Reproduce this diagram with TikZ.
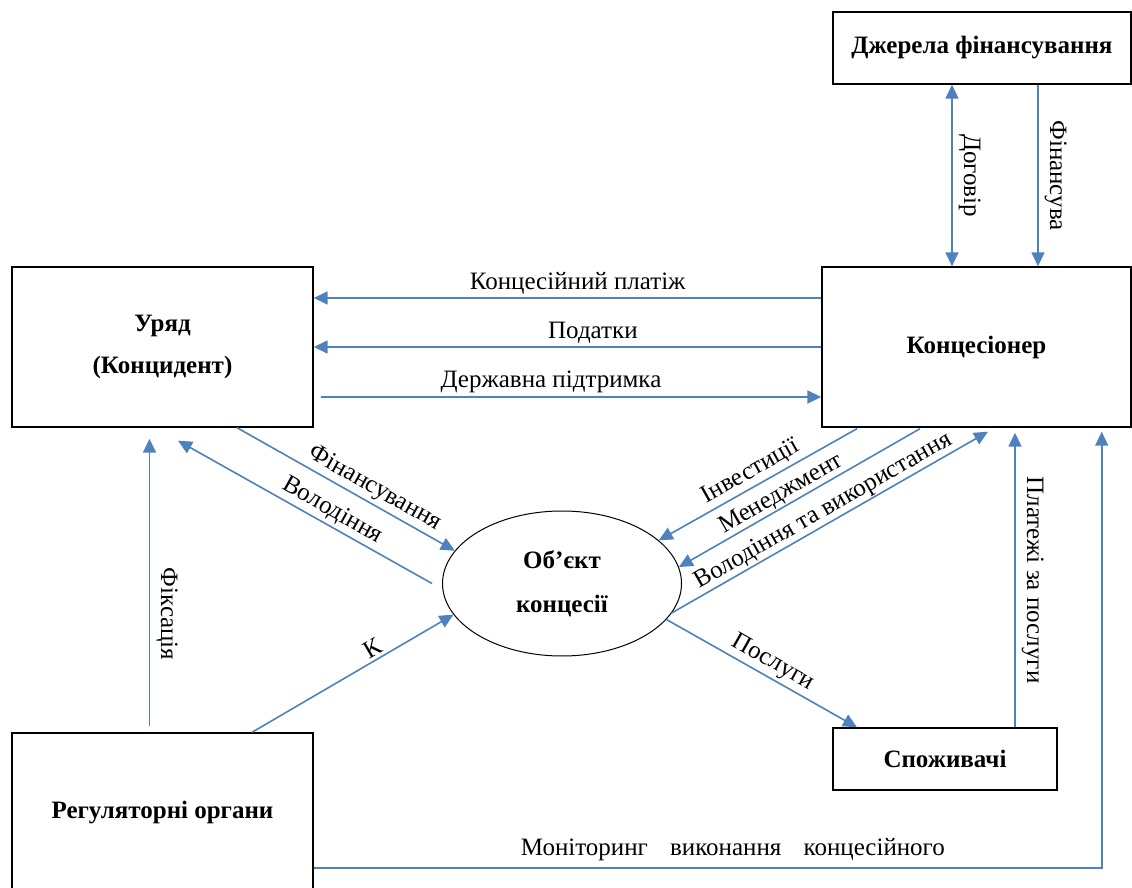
\documentclass[tikz,border=0pt]{standalone}
\usepackage{fontspec}
\setmainfont{Liberation Serif}
\usetikzlibrary{shapes.geometric,arrows.meta}
\definecolor{linkblue}{RGB}{79,129,189}
\begin{document}
\begin{tikzpicture}[x=0.5pt,y=-0.5pt,
	>={Triangle[length=7pt,width=6.5pt]},
	every node/.style={font=\fontsize{12.5}{15}\selectfont},
	box/.style={draw, line width=0.7pt, inner sep=0pt, align=center, font=\fontsize{12.5}{15}\selectfont\bfseries},
	link/.style={draw=linkblue, line width=0.8pt, ->},
	tag/.style={sloped, above, inner sep=1.5pt},
	vtag/.style={rotate=-90, anchor=south, inner sep=3pt}]
	\clip (0,0) rectangle (1132,888);

	\node[box, minimum width=149pt, minimum height=36pt] (src) at (982,48) {Джерела фінансування};
	\node[box, minimum width=150.5pt, minimum height=80pt] (gov) at (162.5,347) {Уряд\\[6pt](Концидент)};
	\node[box, minimum width=154.5pt, minimum height=80pt] (conc) at (976.5,347) {Концесіонер};
	\node[draw, ellipse, line width=0.5pt, inner sep=0pt, align=center, minimum width=119.5pt, minimum height=72.5pt,
		font=\fontsize{12.5}{15}\selectfont\bfseries] (obj) at (562,583.5) {Об’єкт\\[7pt]концесії};
	\node[box, minimum width=112pt, minimum height=31pt] (cons) at (945,759) {Споживачі};
	\node[box, minimum width=150.5pt, minimum height=79.5pt] (reg) at (162.5,812.5) {Регуляторні органи};

	\draw[link, <->] ([xshift=-15pt]src.south) -- ([xshift=-15pt]src.south |- conc.north) node[vtag, midway] {Договір};
	\draw[link] ([xshift=28pt]src.south) -- ([xshift=28pt]src.south |- conc.north) node[vtag, midway] {Фінансува};

	\draw[link] ([yshift=24.5pt]conc.west) -- ([yshift=24.5pt]conc.west -| gov.east) node[tag, pos=0.48] {Концесійний платіж};
	\draw[link] (conc.west) -- (conc.west -| gov.east) node[tag, pos=0.45] {Податки};
	\draw[link] ([xshift=3.5pt,yshift=-25pt]gov.east) -- ([yshift=-25pt]gov.east -| conc.west) node[tag, pos=0.46] {Державна підтримка};

	\draw[link] ([xshift=37.25pt]gov.south) -- (obj.163) node[tag, pos=0.6] {Фінансування};
	\draw[link] ([xshift=-5pt]obj.west) -- ([xshift=7.75pt,yshift=-6.5pt]gov.south) node[tag, pos=0.42] {Володіння};
	\draw[link] ([xshift=-6.5pt,yshift=3pt]reg.north) -- ([xshift=-6.5pt,yshift=-5.5pt]gov.south) node[vtag, pos=0.39] {Фіксація};
	\draw[link] ([xshift=44.75pt]reg.north) -- (obj.196) node[tag, pos=0.63] {К};

	\draw[link] ([xshift=-59.75pt,yshift=-0.5pt]conc.south) -- (obj.24) node[tag, pos=0.5] {Інвестиції};
	\draw[link] ([xshift=-28.25pt,yshift=-0.5pt]conc.south) -- (obj.8) node[tag, pos=0.55, inner sep=0.5pt] {Менеджмент};
	\draw[link] (obj.-15) -- ([xshift=5.75pt,yshift=-2pt]conc.south) node[tag, midway, inner sep=0.5pt] {Володіння та використання};
	\draw[link] (obj.-19) -- ([xshift=-44pt]cons.north) node[tag, pos=0.52] {Послуги};
	\draw[link] ([xshift=35pt]cons.north) -- ([xshift=35pt,yshift=-2.5pt]cons.north |- conc.south) node[vtag, midway] {Платежі за послуги};

	\draw[link] ([yshift=-27.75pt]reg.east) -| ([xshift=62.6pt,yshift=-2pt]conc.south)
		node[pos=0.266, above] {\makebox[212pt][s]{Моніторинг\hfill виконання\hfill концесійного}};
\end{tikzpicture}
\end{document}
